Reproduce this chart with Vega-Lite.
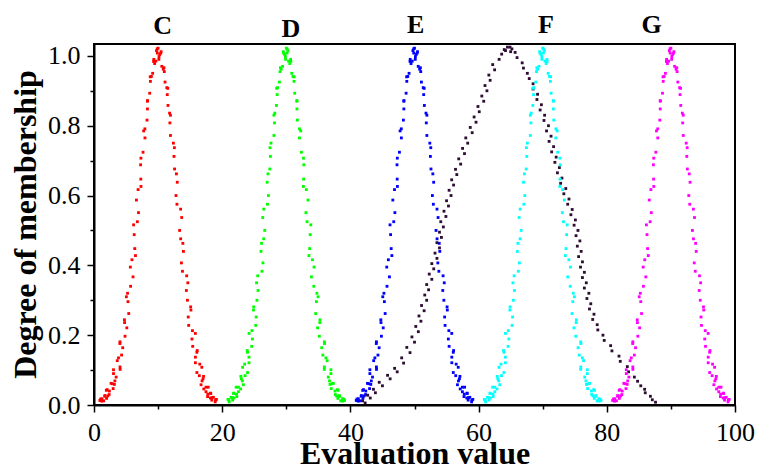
{
"$schema": "https://vega.github.io/schema/vega-lite/v6.json",
"width": 641,
"height": 361,
"autosize": {"type": "none"},
"padding": {"left": 94, "top": 44, "right": 23, "bottom": 62},
"background": "white",
"config": {
"view": {"stroke": "black", "strokeWidth": 2},
"axis": {"domainColor": "black", "domainWidth": 2, "tickColor": "black", "tickWidth": 1.5, "labelFont": "Liberation Serif", "labelFontSize": 26, "labelColor": "black", "titleFont": "Liberation Serif", "titleFontSize": 32, "titleFontWeight": "bold", "titleColor": "black", "grid": false, "labelPadding": 7}
},
"datasets": {
"C": [
{"x":9.75,"y":1.015},{"x":9.46,"y":0.978},{"x":9.30,"y":0.984},{"x":8.95,"y":0.941},{"x":8.80,"y":0.927},{"x":8.35,"y":0.872},{"x":8.34,"y":0.848},{"x":7.94,"y":0.791},{"x":7.95,"y":0.765},{"x":7.32,"y":0.707},{"x":7.30,"y":0.647},{"x":6.88,"y":0.617},{"x":6.94,"y":0.551},{"x":6.18,"y":0.516},{"x":6.36,"y":0.448},{"x":5.92,"y":0.416},{"x":6.09,"y":0.367},{"x":5.23,"y":0.320},{"x":5.30,"y":0.296},{"x":4.75,"y":0.244},{"x":5.12,"y":0.221},{"x":4.06,"y":0.181},{"x":4.48,"y":0.164},{"x":3.82,"y":0.135},{"x":4.06,"y":0.109},{"x":3.04,"y":0.101},{"x":3.45,"y":0.080},{"x":2.86,"y":0.061},{"x":3.18,"y":0.059},{"x":2.05,"y":0.044},{"x":2.40,"y":0.040},{"x":1.68,"y":0.025},{"x":2.16,"y":0.026},{"x":1.24,"y":0.018},{"x":1.51,"y":0.012},{"x":0.91,"y":0.013},
{"x":10.26,"y":1.004},{"x":10.47,"y":1.012},{"x":10.80,"y":0.962},{"x":10.97,"y":0.955},{"x":11.36,"y":0.909},{"x":11.43,"y":0.889},{"x":11.79,"y":0.836},{"x":11.84,"y":0.808},{"x":12.39,"y":0.750},{"x":12.48,"y":0.712},{"x":12.86,"y":0.662},{"x":12.79,"y":0.600},{"x":13.51,"y":0.561},{"x":13.36,"y":0.500},{"x":13.86,"y":0.463},{"x":13.64,"y":0.407},{"x":14.46,"y":0.370},{"x":14.41,"y":0.328},{"x":15.08,"y":0.281},{"x":14.70,"y":0.252},{"x":15.36,"y":0.213},{"x":15.28,"y":0.189},{"x":16.10,"y":0.156},{"x":15.82,"y":0.137},{"x":16.50,"y":0.117},{"x":16.05,"y":0.093},{"x":17.09,"y":0.082},{"x":16.86,"y":0.069},{"x":17.47,"y":0.051},{"x":17.13,"y":0.046},{"x":18.22,"y":0.033},{"x":17.76,"y":0.031},{"x":18.42,"y":0.021},{"x":18.16,"y":0.020},{"x":19.10,"y":0.016},{"x":18.91,"y":0.009},
{"x":9.87,"y":1.020},{"x":9.65,"y":0.985},{"x":9.33,"y":0.990},{"x":9.15,"y":0.950},{"x":8.77,"y":0.940},{"x":8.69,"y":0.893},{"x":8.34,"y":0.870},{"x":8.27,"y":0.816},{"x":7.75,"y":0.785},{"x":7.65,"y":0.724},{"x":7.27,"y":0.688},{"x":7.33,"y":0.626},{"x":6.62,"y":0.587},{"x":6.76,"y":0.525},{"x":6.27,"y":0.488},{"x":6.47,"y":0.428},{"x":5.67,"y":0.395},{"x":5.71,"y":0.340},{"x":5.05,"y":0.310},{"x":5.42,"y":0.262},{"x":4.77,"y":0.236},{"x":4.84,"y":0.197},{"x":4.04,"y":0.176},{"x":4.30,"y":0.143},{"x":3.63,"y":0.127},{"x":4.07,"y":0.102},{"x":3.04,"y":0.090},{"x":3.26,"y":0.069},{"x":2.66,"y":0.062},{"x":2.99,"y":0.047},{"x":1.92,"y":0.042},{"x":2.36,"y":0.030},{"x":1.71,"y":0.027},{"x":1.96,"y":0.019},{"x":1.03,"y":0.017},{"x":1.21,"y":0.011},
{"x":10.12,"y":0.990},{"x":10.41,"y":1.008},{"x":10.58,"y":0.970},{"x":10.92,"y":0.966},{"x":11.08,"y":0.925},{"x":11.51,"y":0.907},{"x":11.54,"y":0.858},{"x":11.93,"y":0.830},{"x":11.93,"y":0.772},{"x":12.54,"y":0.737},{"x":12.57,"y":0.676},{"x":12.99,"y":0.638},{"x":12.94,"y":0.575},{"x":13.68,"y":0.537},{"x":13.52,"y":0.476},{"x":13.95,"y":0.440},{"x":13.80,"y":0.383},{"x":14.64,"y":0.350},{"x":14.58,"y":0.300},{"x":15.12,"y":0.272},{"x":14.77,"y":0.228},{"x":15.81,"y":0.205},{"x":15.40,"y":0.168},{"x":16.05,"y":0.151},{"x":15.82,"y":0.121},{"x":16.82,"y":0.108},{"x":16.43,"y":0.084},{"x":17.01,"y":0.075},{"x":16.70,"y":0.058},{"x":17.82,"y":0.051},{"x":17.47,"y":0.038},{"x":18.19,"y":0.034},{"x":17.72,"y":0.024},{"x":18.63,"y":0.022},{"x":18.37,"y":0.014},{"x":18.96,"y":0.014},
{"x":10.0,"y":1.022},{"x":9.88,"y":1.008},{"x":10.14,"y":0.998}
],
"D": [
{"x":30.25,"y":1.015},{"x":30.54,"y":0.978},{"x":30.70,"y":0.984},{"x":31.05,"y":0.941},{"x":31.20,"y":0.927},{"x":31.65,"y":0.872},{"x":31.66,"y":0.848},{"x":32.06,"y":0.791},{"x":32.05,"y":0.765},{"x":32.68,"y":0.707},{"x":32.70,"y":0.647},{"x":33.12,"y":0.617},{"x":33.06,"y":0.551},{"x":33.82,"y":0.516},{"x":33.64,"y":0.448},{"x":34.08,"y":0.416},{"x":33.91,"y":0.367},{"x":34.77,"y":0.320},{"x":34.70,"y":0.296},{"x":35.25,"y":0.244},{"x":34.88,"y":0.221},{"x":35.94,"y":0.181},{"x":35.52,"y":0.164},{"x":36.18,"y":0.135},{"x":35.94,"y":0.109},{"x":36.96,"y":0.101},{"x":36.55,"y":0.080},{"x":37.14,"y":0.061},{"x":36.82,"y":0.059},{"x":37.95,"y":0.044},{"x":37.60,"y":0.040},{"x":38.32,"y":0.025},{"x":37.84,"y":0.026},{"x":38.76,"y":0.018},{"x":38.49,"y":0.012},{"x":39.09,"y":0.013},
{"x":29.74,"y":1.004},{"x":29.53,"y":1.012},{"x":29.20,"y":0.962},{"x":29.03,"y":0.955},{"x":28.64,"y":0.909},{"x":28.57,"y":0.889},{"x":28.21,"y":0.836},{"x":28.16,"y":0.808},{"x":27.61,"y":0.750},{"x":27.52,"y":0.712},{"x":27.14,"y":0.662},{"x":27.21,"y":0.600},{"x":26.49,"y":0.561},{"x":26.64,"y":0.500},{"x":26.14,"y":0.463},{"x":26.36,"y":0.407},{"x":25.54,"y":0.370},{"x":25.59,"y":0.328},{"x":24.92,"y":0.281},{"x":25.30,"y":0.252},{"x":24.64,"y":0.213},{"x":24.72,"y":0.189},{"x":23.90,"y":0.156},{"x":24.18,"y":0.137},{"x":23.50,"y":0.117},{"x":23.95,"y":0.093},{"x":22.91,"y":0.082},{"x":23.14,"y":0.069},{"x":22.53,"y":0.051},{"x":22.87,"y":0.046},{"x":21.78,"y":0.033},{"x":22.24,"y":0.031},{"x":21.58,"y":0.021},{"x":21.84,"y":0.020},{"x":20.90,"y":0.016},{"x":21.09,"y":0.009},
{"x":30.13,"y":1.020},{"x":30.35,"y":0.985},{"x":30.67,"y":0.990},{"x":30.85,"y":0.950},{"x":31.23,"y":0.940},{"x":31.31,"y":0.893},{"x":31.66,"y":0.870},{"x":31.73,"y":0.816},{"x":32.25,"y":0.785},{"x":32.35,"y":0.724},{"x":32.73,"y":0.688},{"x":32.67,"y":0.626},{"x":33.38,"y":0.587},{"x":33.24,"y":0.525},{"x":33.73,"y":0.488},{"x":33.53,"y":0.428},{"x":34.33,"y":0.395},{"x":34.29,"y":0.340},{"x":34.95,"y":0.310},{"x":34.58,"y":0.262},{"x":35.23,"y":0.236},{"x":35.16,"y":0.197},{"x":35.96,"y":0.176},{"x":35.70,"y":0.143},{"x":36.37,"y":0.127},{"x":35.93,"y":0.102},{"x":36.96,"y":0.090},{"x":36.74,"y":0.069},{"x":37.34,"y":0.062},{"x":37.01,"y":0.047},{"x":38.08,"y":0.042},{"x":37.64,"y":0.030},{"x":38.29,"y":0.027},{"x":38.04,"y":0.019},{"x":38.97,"y":0.017},{"x":38.79,"y":0.011},
{"x":29.88,"y":0.990},{"x":29.59,"y":1.008},{"x":29.42,"y":0.970},{"x":29.08,"y":0.966},{"x":28.92,"y":0.925},{"x":28.49,"y":0.907},{"x":28.46,"y":0.858},{"x":28.07,"y":0.830},{"x":28.07,"y":0.772},{"x":27.46,"y":0.737},{"x":27.43,"y":0.676},{"x":27.01,"y":0.638},{"x":27.06,"y":0.575},{"x":26.32,"y":0.537},{"x":26.48,"y":0.476},{"x":26.05,"y":0.440},{"x":26.20,"y":0.383},{"x":25.36,"y":0.350},{"x":25.42,"y":0.300},{"x":24.88,"y":0.272},{"x":25.23,"y":0.228},{"x":24.19,"y":0.205},{"x":24.60,"y":0.168},{"x":23.95,"y":0.151},{"x":24.18,"y":0.121},{"x":23.18,"y":0.108},{"x":23.57,"y":0.084},{"x":22.99,"y":0.075},{"x":23.30,"y":0.058},{"x":22.18,"y":0.051},{"x":22.53,"y":0.038},{"x":21.81,"y":0.034},{"x":22.28,"y":0.024},{"x":21.37,"y":0.022},{"x":21.63,"y":0.014},{"x":21.04,"y":0.014},
{"x":30.0,"y":1.022},{"x":30.12,"y":1.008},{"x":29.86,"y":0.998}
],
"E": [
{"x":49.75,"y":1.015},{"x":49.46,"y":0.978},{"x":49.30,"y":0.984},{"x":48.95,"y":0.941},{"x":48.80,"y":0.927},{"x":48.35,"y":0.872},{"x":48.34,"y":0.848},{"x":47.94,"y":0.791},{"x":47.95,"y":0.765},{"x":47.32,"y":0.707},{"x":47.30,"y":0.647},{"x":46.88,"y":0.617},{"x":46.94,"y":0.551},{"x":46.18,"y":0.516},{"x":46.36,"y":0.448},{"x":45.92,"y":0.416},{"x":46.09,"y":0.367},{"x":45.23,"y":0.320},{"x":45.30,"y":0.296},{"x":44.75,"y":0.244},{"x":45.12,"y":0.221},{"x":44.06,"y":0.181},{"x":44.48,"y":0.164},{"x":43.82,"y":0.135},{"x":44.06,"y":0.109},{"x":43.04,"y":0.101},{"x":43.45,"y":0.080},{"x":42.86,"y":0.061},{"x":43.18,"y":0.059},{"x":42.05,"y":0.044},{"x":42.40,"y":0.040},{"x":41.68,"y":0.025},{"x":42.16,"y":0.026},{"x":41.24,"y":0.018},{"x":41.51,"y":0.012},{"x":40.91,"y":0.013},
{"x":50.26,"y":1.004},{"x":50.47,"y":1.012},{"x":50.80,"y":0.962},{"x":50.97,"y":0.955},{"x":51.36,"y":0.909},{"x":51.43,"y":0.889},{"x":51.79,"y":0.836},{"x":51.84,"y":0.808},{"x":52.39,"y":0.750},{"x":52.48,"y":0.712},{"x":52.86,"y":0.662},{"x":52.79,"y":0.600},{"x":53.51,"y":0.561},{"x":53.36,"y":0.500},{"x":53.86,"y":0.463},{"x":53.64,"y":0.407},{"x":54.46,"y":0.370},{"x":54.41,"y":0.328},{"x":55.08,"y":0.281},{"x":54.70,"y":0.252},{"x":55.36,"y":0.213},{"x":55.28,"y":0.189},{"x":56.10,"y":0.156},{"x":55.82,"y":0.137},{"x":56.50,"y":0.117},{"x":56.05,"y":0.093},{"x":57.09,"y":0.082},{"x":56.86,"y":0.069},{"x":57.47,"y":0.051},{"x":57.13,"y":0.046},{"x":58.22,"y":0.033},{"x":57.76,"y":0.031},{"x":58.42,"y":0.021},{"x":58.16,"y":0.020},{"x":59.10,"y":0.016},{"x":58.91,"y":0.009},
{"x":49.87,"y":1.020},{"x":49.65,"y":0.985},{"x":49.33,"y":0.990},{"x":49.15,"y":0.950},{"x":48.77,"y":0.940},{"x":48.69,"y":0.893},{"x":48.34,"y":0.870},{"x":48.27,"y":0.816},{"x":47.75,"y":0.785},{"x":47.65,"y":0.724},{"x":47.27,"y":0.688},{"x":47.33,"y":0.626},{"x":46.62,"y":0.587},{"x":46.76,"y":0.525},{"x":46.27,"y":0.488},{"x":46.47,"y":0.428},{"x":45.67,"y":0.395},{"x":45.71,"y":0.340},{"x":45.05,"y":0.310},{"x":45.42,"y":0.262},{"x":44.77,"y":0.236},{"x":44.84,"y":0.197},{"x":44.04,"y":0.176},{"x":44.30,"y":0.143},{"x":43.63,"y":0.127},{"x":44.07,"y":0.102},{"x":43.04,"y":0.090},{"x":43.26,"y":0.069},{"x":42.66,"y":0.062},{"x":42.99,"y":0.047},{"x":41.92,"y":0.042},{"x":42.36,"y":0.030},{"x":41.71,"y":0.027},{"x":41.96,"y":0.019},{"x":41.03,"y":0.017},{"x":41.21,"y":0.011},
{"x":50.12,"y":0.990},{"x":50.41,"y":1.008},{"x":50.58,"y":0.970},{"x":50.92,"y":0.966},{"x":51.08,"y":0.925},{"x":51.51,"y":0.907},{"x":51.54,"y":0.858},{"x":51.93,"y":0.830},{"x":51.93,"y":0.772},{"x":52.54,"y":0.737},{"x":52.57,"y":0.676},{"x":52.99,"y":0.638},{"x":52.94,"y":0.575},{"x":53.68,"y":0.537},{"x":53.52,"y":0.476},{"x":53.95,"y":0.440},{"x":53.80,"y":0.383},{"x":54.64,"y":0.350},{"x":54.58,"y":0.300},{"x":55.12,"y":0.272},{"x":54.77,"y":0.228},{"x":55.81,"y":0.205},{"x":55.40,"y":0.168},{"x":56.05,"y":0.151},{"x":55.82,"y":0.121},{"x":56.82,"y":0.108},{"x":56.43,"y":0.084},{"x":57.01,"y":0.075},{"x":56.70,"y":0.058},{"x":57.82,"y":0.051},{"x":57.47,"y":0.038},{"x":58.19,"y":0.034},{"x":57.72,"y":0.024},{"x":58.63,"y":0.022},{"x":58.37,"y":0.014},{"x":58.96,"y":0.014},
{"x":50.0,"y":1.022},{"x":49.88,"y":1.008},{"x":50.14,"y":0.998}
],
"F": [
{"x":70.25,"y":1.015},{"x":70.54,"y":0.978},{"x":70.70,"y":0.984},{"x":71.05,"y":0.941},{"x":71.20,"y":0.927},{"x":71.65,"y":0.872},{"x":71.66,"y":0.848},{"x":72.06,"y":0.791},{"x":72.05,"y":0.765},{"x":72.68,"y":0.707},{"x":72.70,"y":0.647},{"x":73.12,"y":0.617},{"x":73.06,"y":0.551},{"x":73.82,"y":0.516},{"x":73.64,"y":0.448},{"x":74.08,"y":0.416},{"x":73.91,"y":0.367},{"x":74.77,"y":0.320},{"x":74.70,"y":0.296},{"x":75.25,"y":0.244},{"x":74.88,"y":0.221},{"x":75.94,"y":0.181},{"x":75.52,"y":0.164},{"x":76.18,"y":0.135},{"x":75.94,"y":0.109},{"x":76.96,"y":0.101},{"x":76.55,"y":0.080},{"x":77.14,"y":0.061},{"x":76.82,"y":0.059},{"x":77.95,"y":0.044},{"x":77.60,"y":0.040},{"x":78.32,"y":0.025},{"x":77.84,"y":0.026},{"x":78.76,"y":0.018},{"x":78.49,"y":0.012},{"x":79.09,"y":0.013},
{"x":69.74,"y":1.004},{"x":69.53,"y":1.012},{"x":69.20,"y":0.962},{"x":69.03,"y":0.955},{"x":68.64,"y":0.909},{"x":68.57,"y":0.889},{"x":68.21,"y":0.836},{"x":68.16,"y":0.808},{"x":67.61,"y":0.750},{"x":67.52,"y":0.712},{"x":67.14,"y":0.662},{"x":67.21,"y":0.600},{"x":66.49,"y":0.561},{"x":66.64,"y":0.500},{"x":66.14,"y":0.463},{"x":66.36,"y":0.407},{"x":65.54,"y":0.370},{"x":65.59,"y":0.328},{"x":64.92,"y":0.281},{"x":65.30,"y":0.252},{"x":64.64,"y":0.213},{"x":64.72,"y":0.189},{"x":63.90,"y":0.156},{"x":64.18,"y":0.137},{"x":63.50,"y":0.117},{"x":63.95,"y":0.093},{"x":62.91,"y":0.082},{"x":63.14,"y":0.069},{"x":62.53,"y":0.051},{"x":62.87,"y":0.046},{"x":61.78,"y":0.033},{"x":62.24,"y":0.031},{"x":61.58,"y":0.021},{"x":61.84,"y":0.020},{"x":60.90,"y":0.016},{"x":61.09,"y":0.009},
{"x":70.13,"y":1.020},{"x":70.35,"y":0.985},{"x":70.67,"y":0.990},{"x":70.85,"y":0.950},{"x":71.23,"y":0.940},{"x":71.31,"y":0.893},{"x":71.66,"y":0.870},{"x":71.73,"y":0.816},{"x":72.25,"y":0.785},{"x":72.35,"y":0.724},{"x":72.73,"y":0.688},{"x":72.67,"y":0.626},{"x":73.38,"y":0.587},{"x":73.24,"y":0.525},{"x":73.73,"y":0.488},{"x":73.53,"y":0.428},{"x":74.33,"y":0.395},{"x":74.29,"y":0.340},{"x":74.95,"y":0.310},{"x":74.58,"y":0.262},{"x":75.23,"y":0.236},{"x":75.16,"y":0.197},{"x":75.96,"y":0.176},{"x":75.70,"y":0.143},{"x":76.37,"y":0.127},{"x":75.93,"y":0.102},{"x":76.96,"y":0.090},{"x":76.74,"y":0.069},{"x":77.34,"y":0.062},{"x":77.01,"y":0.047},{"x":78.08,"y":0.042},{"x":77.64,"y":0.030},{"x":78.29,"y":0.027},{"x":78.04,"y":0.019},{"x":78.97,"y":0.017},{"x":78.79,"y":0.011},
{"x":69.88,"y":0.990},{"x":69.59,"y":1.008},{"x":69.42,"y":0.970},{"x":69.08,"y":0.966},{"x":68.92,"y":0.925},{"x":68.49,"y":0.907},{"x":68.46,"y":0.858},{"x":68.07,"y":0.830},{"x":68.07,"y":0.772},{"x":67.46,"y":0.737},{"x":67.43,"y":0.676},{"x":67.01,"y":0.638},{"x":67.06,"y":0.575},{"x":66.32,"y":0.537},{"x":66.48,"y":0.476},{"x":66.05,"y":0.440},{"x":66.20,"y":0.383},{"x":65.36,"y":0.350},{"x":65.42,"y":0.300},{"x":64.88,"y":0.272},{"x":65.23,"y":0.228},{"x":64.19,"y":0.205},{"x":64.60,"y":0.168},{"x":63.95,"y":0.151},{"x":64.18,"y":0.121},{"x":63.18,"y":0.108},{"x":63.57,"y":0.084},{"x":62.99,"y":0.075},{"x":63.30,"y":0.058},{"x":62.18,"y":0.051},{"x":62.53,"y":0.038},{"x":61.81,"y":0.034},{"x":62.28,"y":0.024},{"x":61.37,"y":0.022},{"x":61.63,"y":0.014},{"x":61.04,"y":0.014},
{"x":70.0,"y":1.022},{"x":70.12,"y":1.008},{"x":69.86,"y":0.998}
],
"G": [
{"x":89.75,"y":1.015},{"x":89.46,"y":0.978},{"x":89.30,"y":0.984},{"x":88.95,"y":0.941},{"x":88.80,"y":0.927},{"x":88.35,"y":0.872},{"x":88.34,"y":0.848},{"x":87.94,"y":0.791},{"x":87.95,"y":0.765},{"x":87.32,"y":0.707},{"x":87.30,"y":0.647},{"x":86.88,"y":0.617},{"x":86.94,"y":0.551},{"x":86.18,"y":0.516},{"x":86.36,"y":0.448},{"x":85.92,"y":0.416},{"x":86.09,"y":0.367},{"x":85.23,"y":0.320},{"x":85.30,"y":0.296},{"x":84.75,"y":0.244},{"x":85.12,"y":0.221},{"x":84.06,"y":0.181},{"x":84.48,"y":0.164},{"x":83.82,"y":0.135},{"x":84.06,"y":0.109},{"x":83.04,"y":0.101},{"x":83.45,"y":0.080},{"x":82.86,"y":0.061},{"x":83.18,"y":0.059},{"x":82.05,"y":0.044},{"x":82.40,"y":0.040},{"x":81.68,"y":0.025},{"x":82.16,"y":0.026},{"x":81.24,"y":0.018},{"x":81.51,"y":0.012},{"x":80.91,"y":0.013},
{"x":90.26,"y":1.004},{"x":90.47,"y":1.012},{"x":90.80,"y":0.962},{"x":90.97,"y":0.955},{"x":91.36,"y":0.909},{"x":91.43,"y":0.889},{"x":91.79,"y":0.836},{"x":91.84,"y":0.808},{"x":92.39,"y":0.750},{"x":92.48,"y":0.712},{"x":92.86,"y":0.662},{"x":92.79,"y":0.600},{"x":93.51,"y":0.561},{"x":93.36,"y":0.500},{"x":93.86,"y":0.463},{"x":93.64,"y":0.407},{"x":94.46,"y":0.370},{"x":94.41,"y":0.328},{"x":95.08,"y":0.281},{"x":94.70,"y":0.252},{"x":95.36,"y":0.213},{"x":95.28,"y":0.189},{"x":96.10,"y":0.156},{"x":95.82,"y":0.137},{"x":96.50,"y":0.117},{"x":96.05,"y":0.093},{"x":97.09,"y":0.082},{"x":96.86,"y":0.069},{"x":97.47,"y":0.051},{"x":97.13,"y":0.046},{"x":98.22,"y":0.033},{"x":97.76,"y":0.031},{"x":98.42,"y":0.021},{"x":98.16,"y":0.020},{"x":99.10,"y":0.016},{"x":98.91,"y":0.009},
{"x":89.87,"y":1.020},{"x":89.65,"y":0.985},{"x":89.33,"y":0.990},{"x":89.15,"y":0.950},{"x":88.77,"y":0.940},{"x":88.69,"y":0.893},{"x":88.34,"y":0.870},{"x":88.27,"y":0.816},{"x":87.75,"y":0.785},{"x":87.65,"y":0.724},{"x":87.27,"y":0.688},{"x":87.33,"y":0.626},{"x":86.62,"y":0.587},{"x":86.76,"y":0.525},{"x":86.27,"y":0.488},{"x":86.47,"y":0.428},{"x":85.67,"y":0.395},{"x":85.71,"y":0.340},{"x":85.05,"y":0.310},{"x":85.42,"y":0.262},{"x":84.77,"y":0.236},{"x":84.84,"y":0.197},{"x":84.04,"y":0.176},{"x":84.30,"y":0.143},{"x":83.63,"y":0.127},{"x":84.07,"y":0.102},{"x":83.04,"y":0.090},{"x":83.26,"y":0.069},{"x":82.66,"y":0.062},{"x":82.99,"y":0.047},{"x":81.92,"y":0.042},{"x":82.36,"y":0.030},{"x":81.71,"y":0.027},{"x":81.96,"y":0.019},{"x":81.03,"y":0.017},{"x":81.21,"y":0.011},
{"x":90.12,"y":0.990},{"x":90.41,"y":1.008},{"x":90.58,"y":0.970},{"x":90.92,"y":0.966},{"x":91.08,"y":0.925},{"x":91.51,"y":0.907},{"x":91.54,"y":0.858},{"x":91.93,"y":0.830},{"x":91.93,"y":0.772},{"x":92.54,"y":0.737},{"x":92.57,"y":0.676},{"x":92.99,"y":0.638},{"x":92.94,"y":0.575},{"x":93.68,"y":0.537},{"x":93.52,"y":0.476},{"x":93.95,"y":0.440},{"x":93.80,"y":0.383},{"x":94.64,"y":0.350},{"x":94.58,"y":0.300},{"x":95.12,"y":0.272},{"x":94.77,"y":0.228},{"x":95.81,"y":0.205},{"x":95.40,"y":0.168},{"x":96.05,"y":0.151},{"x":95.82,"y":0.121},{"x":96.82,"y":0.108},{"x":96.43,"y":0.084},{"x":97.01,"y":0.075},{"x":96.70,"y":0.058},{"x":97.82,"y":0.051},{"x":97.47,"y":0.038},{"x":98.19,"y":0.034},{"x":97.72,"y":0.024},{"x":98.63,"y":0.022},{"x":98.37,"y":0.014},{"x":98.96,"y":0.014},
{"x":90.0,"y":1.022},{"x":89.88,"y":1.008},{"x":90.14,"y":0.998}
],
"H": [
{"x":64.9,"y":1.025},{"x":64.2,"y":1.015},{"x":63.6,"y":1.005},{"x":63.2,"y":0.99},{"x":62.2,"y":0.975},{"x":62.5,"y":0.96},{"x":61.6,"y":0.945},{"x":61.8,"y":0.93},{"x":61.0,"y":0.915},{"x":61.3,"y":0.90},{"x":60.5,"y":0.885},{"x":60.8,"y":0.87},{"x":59.9,"y":0.855},{"x":60.1,"y":0.84},{"x":59.3,"y":0.825},{"x":59.6,"y":0.81},{"x":58.7,"y":0.795},{"x":59.0,"y":0.78},{"x":58.0,"y":0.765},{"x":58.3,"y":0.75},{"x":57.5,"y":0.735},{"x":57.8,"y":0.72},{"x":56.9,"y":0.705},{"x":57.2,"y":0.69},{"x":56.4,"y":0.675},{"x":56.6,"y":0.66},{"x":55.8,"y":0.645},{"x":56.1,"y":0.63},{"x":55.4,"y":0.615},{"x":55.7,"y":0.60},{"x":55.0,"y":0.585},{"x":55.3,"y":0.57},{"x":54.6,"y":0.555},{"x":54.9,"y":0.54},{"x":54.1,"y":0.525},{"x":54.5,"y":0.51},{"x":53.9,"y":0.495},{"x":54.2,"y":0.48},{"x":53.5,"y":0.465},{"x":53.9,"y":0.45},{"x":53.2,"y":0.435},{"x":53.5,"y":0.42},{"x":52.7,"y":0.405},{"x":53.0,"y":0.39},{"x":52.3,"y":0.375},{"x":52.7,"y":0.36},{"x":51.9,"y":0.345},{"x":52.2,"y":0.33},{"x":51.6,"y":0.315},{"x":51.9,"y":0.30},{"x":51.1,"y":0.285},{"x":51.5,"y":0.27},{"x":50.7,"y":0.255},{"x":51.0,"y":0.24},{"x":50.2,"y":0.225},{"x":50.6,"y":0.21},{"x":49.6,"y":0.195},{"x":50.0,"y":0.18},{"x":48.8,"y":0.165},{"x":49.3,"y":0.15},{"x":48.0,"y":0.135},{"x":48.3,"y":0.12},{"x":46.9,"y":0.105},{"x":47.3,"y":0.095},{"x":45.8,"y":0.085},{"x":46.2,"y":0.075},{"x":44.5,"y":0.065},{"x":45.0,"y":0.055},{"x":43.6,"y":0.045},{"x":43.9,"y":0.035},{"x":42.7,"y":0.028},{"x":43.1,"y":0.02},{"x":41.9,"y":0.012},{"x":42.3,"y":0.006},
{"x":65.2,"y":1.02},{"x":65.7,"y":1.01},{"x":66.0,"y":0.995},{"x":66.8,"y":0.98},{"x":67.0,"y":0.965},{"x":67.6,"y":0.95},{"x":67.9,"y":0.935},{"x":68.5,"y":0.92},{"x":68.5,"y":0.905},{"x":69.2,"y":0.89},{"x":69.1,"y":0.875},{"x":69.8,"y":0.86},{"x":69.6,"y":0.845},{"x":70.3,"y":0.83},{"x":70.2,"y":0.815},{"x":70.9,"y":0.80},{"x":70.6,"y":0.785},{"x":71.3,"y":0.77},{"x":71.0,"y":0.755},{"x":71.7,"y":0.74},{"x":71.4,"y":0.725},{"x":72.1,"y":0.71},{"x":71.9,"y":0.695},{"x":72.6,"y":0.68},{"x":72.3,"y":0.665},{"x":73.0,"y":0.65},{"x":72.8,"y":0.635},{"x":73.6,"y":0.62},{"x":73.3,"y":0.605},{"x":74.1,"y":0.59},{"x":73.9,"y":0.575},{"x":74.6,"y":0.56},{"x":74.4,"y":0.545},{"x":75.1,"y":0.53},{"x":74.9,"y":0.515},{"x":75.5,"y":0.50},{"x":75.2,"y":0.485},{"x":75.8,"y":0.47},{"x":75.4,"y":0.455},{"x":76.0,"y":0.44},{"x":75.6,"y":0.425},{"x":76.2,"y":0.41},{"x":75.9,"y":0.395},{"x":76.5,"y":0.38},{"x":76.2,"y":0.365},{"x":76.8,"y":0.35},{"x":76.5,"y":0.335},{"x":77.2,"y":0.32},{"x":76.9,"y":0.305},{"x":77.5,"y":0.29},{"x":77.3,"y":0.275},{"x":78.0,"y":0.26},{"x":77.8,"y":0.245},{"x":78.5,"y":0.23},{"x":78.6,"y":0.215},{"x":79.4,"y":0.20},{"x":79.6,"y":0.185},{"x":80.6,"y":0.17},{"x":80.8,"y":0.155},{"x":81.9,"y":0.14},{"x":82.1,"y":0.125},{"x":83.2,"y":0.11},{"x":83.4,"y":0.095},{"x":84.3,"y":0.08},{"x":84.8,"y":0.068},{"x":85.3,"y":0.055},{"x":85.9,"y":0.045},{"x":86.0,"y":0.035},{"x":86.8,"y":0.025},{"x":87.1,"y":0.015},{"x":87.6,"y":0.008},
{"x":64.5,"y":1.025},{"x":64.0,"y":1.018},{"x":65.0,"y":1.012}
],
"labels": [
{"t":"C","x":10.7,"y":1.063},{"t":"D","x":30.7,"y":1.055},{"t":"E","x":50.2,"y":1.065},{"t":"F","x":70.5,"y":1.066},{"t":"G","x":87.0,"y":1.066}
]
},
"layer": [
{"data": {"name": "C"}, "mark": {"type": "point", "shape": "square", "filled": true, "size": 8, "opacity": 1, "color": "#ff0000"},
 "encoding": {
  "x": {"field": "x", "type": "quantitative", "scale": {"domain": [0, 100], "nice": false, "zero": false},
   "axis": {"values": [0, 20, 40, 60, 80, 100], "tickSize": 7, "format": "d", "labelFont": "Liberation Serif", "labelFontSize": 26, "title": "Evaluation value", "titleFont": "Liberation Serif", "titleBaseline": "alphabetic", "titleY": 58, "labelFlush": false, "labelOverlap": false}},
  "y": {"field": "y", "type": "quantitative", "scale": {"domain": [0, 1.034], "nice": false, "zero": false},
   "axis": {"values": [0, 0.2, 0.4, 0.6, 0.8, 1.0], "tickSize": 7, "format": ".1f", "labelFont": "Liberation Serif", "labelFontSize": 26, "title": "Degree of membership", "titleFont": "Liberation Serif", "titleBaseline": "alphabetic", "titleX": -59, "titleY": 180, "titleAngle": -90, "labelFlush": false, "labelOverlap": false}}
 }},
{"data": {"name": "C"}, "mark": {"type": "point", "opacity": 0},
 "encoding": {
  "x": {"field": "x", "type": "quantitative", "scale": {"domain": [0, 100], "nice": false, "zero": false},
   "axis": {"orient": "bottom", "values": [10, 30, 50, 70, 90], "tickSize": 4, "labels": false, "domain": false, "title": null}},
  "y": {"field": "y", "type": "quantitative", "scale": {"domain": [0, 1.034], "nice": false, "zero": false},
   "axis": {"orient": "left", "values": [0.1, 0.3, 0.5, 0.7, 0.9], "tickSize": 4, "labels": false, "domain": false, "title": null}}
 }},
{"data": {"name": "D"}, "mark": {"type": "point", "shape": "square", "filled": true, "size": 8, "opacity": 1, "color": "#00ff00"},
 "encoding": {"x": {"field": "x", "type": "quantitative", "scale": {"domain": [0, 100], "nice": false, "zero": false}, "axis": null}, "y": {"field": "y", "type": "quantitative", "scale": {"domain": [0, 1.034], "nice": false, "zero": false}, "axis": null}}},
{"data": {"name": "E"}, "mark": {"type": "point", "shape": "square", "filled": true, "size": 8, "opacity": 1, "color": "#0000ff"},
 "encoding": {"x": {"field": "x", "type": "quantitative", "scale": {"domain": [0, 100], "nice": false, "zero": false}, "axis": null}, "y": {"field": "y", "type": "quantitative", "scale": {"domain": [0, 1.034], "nice": false, "zero": false}, "axis": null}}},
{"data": {"name": "H"}, "mark": {"type": "point", "shape": "square", "filled": true, "size": 8, "opacity": 1, "color": "#2e0d33"},
 "encoding": {"x": {"field": "x", "type": "quantitative", "scale": {"domain": [0, 100], "nice": false, "zero": false}, "axis": null}, "y": {"field": "y", "type": "quantitative", "scale": {"domain": [0, 1.034], "nice": false, "zero": false}, "axis": null}}},
{"data": {"name": "F"}, "mark": {"type": "point", "shape": "square", "filled": true, "size": 8, "opacity": 1, "color": "#00ffff"},
 "encoding": {"x": {"field": "x", "type": "quantitative", "scale": {"domain": [0, 100], "nice": false, "zero": false}, "axis": null}, "y": {"field": "y", "type": "quantitative", "scale": {"domain": [0, 1.034], "nice": false, "zero": false}, "axis": null}}},
{"data": {"name": "G"}, "mark": {"type": "point", "shape": "square", "filled": true, "size": 8, "opacity": 1, "color": "#ff00ff"},
 "encoding": {"x": {"field": "x", "type": "quantitative", "scale": {"domain": [0, 100], "nice": false, "zero": false}, "axis": null}, "y": {"field": "y", "type": "quantitative", "scale": {"domain": [0, 1.034], "nice": false, "zero": false}, "axis": null}}},
{"data": {"name": "labels"}, "mark": {"type": "text", "font": "Liberation Serif", "fontSize": 26, "fontWeight": "bold", "color": "black", "align": "center", "baseline": "alphabetic"},
 "encoding": {"x": {"field": "x", "type": "quantitative", "scale": {"domain": [0, 100], "nice": false, "zero": false}, "axis": null}, "y": {"field": "y", "type": "quantitative", "scale": {"domain": [0, 1.034], "nice": false, "zero": false}, "axis": null}, "text": {"field": "t"}}}
],
"resolve": {"axis": {"x": "independent", "y": "independent"}}
}
